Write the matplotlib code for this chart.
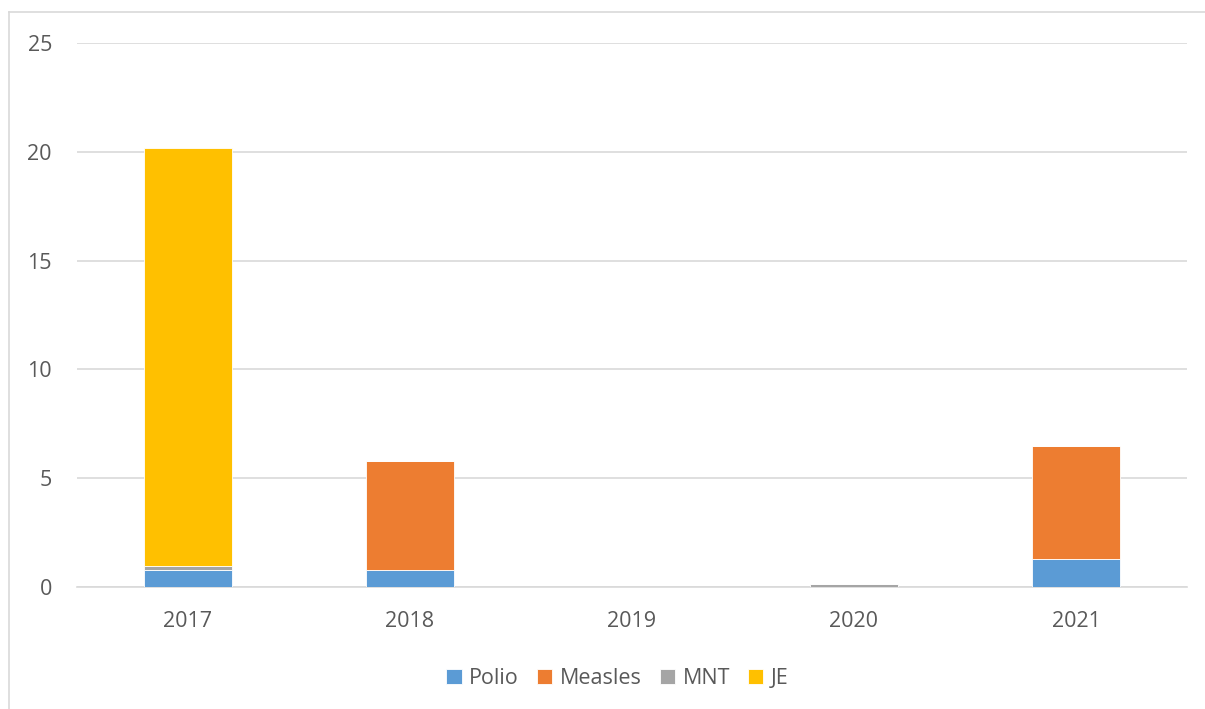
import matplotlib
matplotlib.use("Agg")
import matplotlib.pyplot as plt
from matplotlib.lines import Line2D
import numpy as np

years = ["2017", "2018", "2019", "2020", "2021"]
polio = [0.8, 0.8, 0, 0, 1.3]
measles = [0, 5.0, 0, 0, 5.2]
mnt = [0.17, 0, 0, 0.15, 0]
je = [19.2, 0, 0, 0, 0]

series = [("Polio", polio, "#5b9bd5"), ("Measles", measles, "#ed7d31"),
          ("MNT", mnt, "#a5a5a5"), ("JE", je, "#ffc000")]

plt.rcParams["font.family"] = ["Open Sans", "DejaVu Sans"]
fig = plt.figure(figsize=(12.05, 7.09), dpi=100)
ax = fig.add_axes([77 / 1205, 1 - 587 / 709, 1110 / 1205, 544 / 709])

x = np.arange(len(years))
bottom = np.zeros(len(years))
for name, vals, col in series:
    v = np.array(vals, dtype=float)
    ax.bar(x, v, 0.4, bottom=bottom, color=col, label=name, zorder=3,
           edgecolor="white", linewidth=0.6)
    bottom += v

ax.set_xlim(-0.5, 4.5)
ax.set_ylim(0, 25)
ax.set_yticks([0, 5, 10, 15, 20, 25])
ax.set_xticks(x, years)
ax.grid(axis="y", color="#d9d9d9", linewidth=1.2, zorder=0)
for s in ["top", "right", "left"]:
    ax.spines[s].set_visible(False)
ax.spines["bottom"].set_color("#d9d9d9")
ax.spines["bottom"].set_linewidth(1.2)
ax.tick_params(length=0, labelsize=15.5, colors="#595959")
ax.tick_params(axis="x", pad=17)
ax.tick_params(axis="y", pad=18)

ax.legend(loc="center", bbox_to_anchor=(0.487, -0.168), ncol=4, frameon=False,
          fontsize=15.5, labelcolor="#595959", handlelength=0.7, handleheight=0.7,
          handletextpad=0.35, columnspacing=0.85)

# chart-area border
fig.add_artist(Line2D([9 / 1205, 9 / 1205], [0, 1 - 12 / 709], color="#d9d9d9", lw=1.2))
fig.add_artist(Line2D([9 / 1205, 1], [1 - 12 / 709, 1 - 12 / 709], color="#d9d9d9", lw=1.2))

fig.savefig("out.png", dpi=100)
